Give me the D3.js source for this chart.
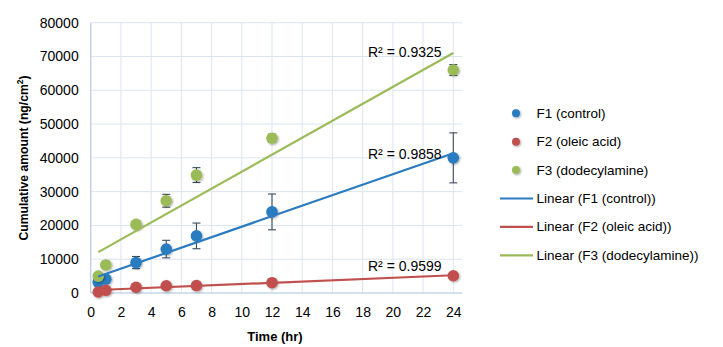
<!DOCTYPE html>
<html><head><meta charset="utf-8">
<script src="https://cdn.jsdelivr.net/npm/d3@7"></script>
<style>body{margin:0;background:#fff}svg{display:block}text{font-family:"Liberation Sans",Arial,sans-serif}</style>
</head><body><svg id="c" width="723" height="347"></svg>
<script>
const times = [0.5, 1, 3, 5, 7, 12, 24];
const f1Values = [3200, 4100, 9000, 13000, 16900, 24000, 40000];
const f1Errors = [600, 600, 1800, 2600, 3800, 5300, 7400];
const f2Values = [300, 800, 1700, 2150, 2200, 3050, 5100];
const f2Errors = [200, 200, 300, 300, 300, 400, 600];
const f3Values = [5000, 8300, 20300, 27300, 34900, 45800, 66000];
const f3Errors = [500, 600, 700, 1900, 2200, 1200, 1600];
const seriesNames = ["F1 (control)", "F2 (oleic acid)", "F3 (dodecylamine)"];
const r2Labels = ["R² = 0.9858", "R² = 0.9599", "R² = 0.9325"];
const xTicks = [0,2,4,6,8,10,12,14,16,18,20,22,24];
const yTicks = [0,10000,20000,30000,40000,50000,60000,70000,80000];
const colors = ["#2b7bc0", "#c0504d", "#9bbb59"];

const series = [
  {name: seriesNames[0], values: f1Values, errors: f1Errors, color: colors[0], r2: r2Labels[0]},
  {name: seriesNames[1], values: f2Values, errors: f2Errors, color: colors[1], r2: r2Labels[1]},
  {name: seriesNames[2], values: f3Values, errors: f3Errors, color: colors[2], r2: r2Labels[2]}
];

const svg = d3.select("#c");
const x = d3.scaleLinear().domain([0, 24]).range([90.7, 453.3]);
const y = d3.scaleLinear().domain([0, 80000]).range([293, 22.7]);
const plotRight = 462;

const defs = svg.append("defs");
const f = defs.append("filter").attr("id","sh").attr("x","-50%").attr("y","-50%").attr("width","200%").attr("height","200%");
f.append("feGaussianBlur").attr("in","SourceAlpha").attr("stdDeviation",1.2).attr("result","b");
f.append("feOffset").attr("in","b").attr("dx",0.8).attr("dy",0.8).attr("result","o");
f.append("feComponentTransfer").attr("in","o").attr("result","o2").append("feFuncA").attr("type","linear").attr("slope",0.35);
const fm = f.append("feMerge"); fm.append("feMergeNode").attr("in","o2"); fm.append("feMergeNode").attr("in","SourceGraphic");

// grid
const g = svg.append("g");
g.selectAll(".hg").data(yTicks).join("line")
  .attr("x1", x(0)).attr("x2", plotRight).attr("y1", d=>y(d)).attr("y2", d=>y(d))
  .attr("stroke", "#dbe5f1").attr("stroke-width", 1);
g.selectAll(".vg").data(xTicks).join("line")
  .attr("x1", d=>x(d)).attr("x2", d=>x(d)).attr("y1", y(80000)).attr("y2", y(0))
  .attr("stroke", "#dbe5f1").attr("stroke-width", 1);
g.append("line").attr("x1", x(0)).attr("x2", x(0)).attr("y1", y(80000)).attr("y2", y(0)).attr("stroke","#b7cde6").attr("stroke-width",1.2);
g.append("line").attr("x1", x(0)).attr("x2", plotRight).attr("y1", y(0)).attr("y2", y(0)).attr("stroke","#b7cde6").attr("stroke-width",1.2);

// tick labels
const yAxis = d3.axisLeft(y).tickValues(yTicks).tickSize(0).tickPadding(12).tickFormat(d3.format("d"));
const ya = svg.append("g").attr("transform", `translate(${x(0)},0)`).call(yAxis);
ya.select(".domain").remove();
ya.selectAll("text").attr("font-size", 14).attr("fill", "#000").style("font-family","Liberation Sans, Arial, sans-serif");
const xAxis = d3.axisBottom(x).tickValues(xTicks).tickSize(0).tickPadding(14);
const xa = svg.append("g").attr("transform", `translate(0,${y(0)})`).call(xAxis);
xa.select(".domain").remove();
xa.selectAll("text").attr("font-size", 14).attr("fill", "#000").style("font-family","Liberation Sans, Arial, sans-serif");

// axis titles
svg.append("text").attr("x", 275).attr("y", 341).attr("text-anchor","middle").attr("font-size",13).attr("font-weight","bold").text("Time (hr)");
const yt = svg.append("text").attr("transform","translate(28,158) rotate(-90)").attr("text-anchor","middle").attr("font-size",12.2).attr("font-weight","bold");
yt.append("tspan").text("Cumulative amount (ng/cm");
yt.append("tspan").attr("font-size",8.5).attr("dy",-5).text("2");
yt.append("tspan").attr("dy",5).text(")");

// error bars and markers
series.forEach(s => {
  const pts = times.map((t,i)=>({t, v:s.values[i], e:s.errors[i]}));
  const eb = svg.append("g").attr("stroke","#3a4a5c").attr("stroke-width",1.1);
  pts.forEach(p => {
    eb.append("line").attr("x1",x(p.t)).attr("x2",x(p.t)).attr("y1",y(p.v+p.e)).attr("y2",y(p.v-p.e));
    eb.append("line").attr("x1",x(p.t)-4).attr("x2",x(p.t)+4).attr("y1",y(p.v+p.e)).attr("y2",y(p.v+p.e));
    eb.append("line").attr("x1",x(p.t)-4).attr("x2",x(p.t)+4).attr("y1",y(p.v-p.e)).attr("y2",y(p.v-p.e));
  });
  svg.append("g").attr("filter","url(#sh)").selectAll("circle").data(pts).join("circle")
    .attr("cx", d=>x(d.t)).attr("cy", d=>y(d.v)).attr("r", 5.8).attr("fill", s.color);
});

// trendlines
function fit(xs, ys){
  const mx=d3.mean(xs), my=d3.mean(ys);
  let sxy=0,sxx=0; xs.forEach((xv,i)=>{sxy+=(xv-mx)*(ys[i]-my);sxx+=(xv-mx)**2;});
  const m=sxy/sxx; return {m, b:my-m*mx};
}
const r2Pos = [[368,159],[368,271],[368,57]];
series.forEach((s,k) => {
  const {m,b} = fit(times, s.values);
  const x0=d3.min(times), x1=d3.max(times);
  svg.append("line").attr("x1",x(x0)).attr("x2",x(x1)).attr("y1",y(m*x0+b)).attr("y2",y(m*x1+b))
    .attr("stroke", s.color).attr("stroke-width",2.2);
  svg.append("text").attr("x",r2Pos[k][0]).attr("y",r2Pos[k][1]).attr("font-size",14).attr("fill","#000").text(s.r2);
});

// legend
const leg = svg.append("g");
series.forEach((s,i)=>{
  const yy = 113.3 + i*28.4;
  leg.append("circle").attr("cx",516).attr("cy",yy).attr("r",4).attr("fill",s.color).attr("filter","url(#sh)");
  leg.append("text").attr("x",536.5).attr("y",yy+4.5).attr("font-size",13.5).text(s.name);
});
series.forEach((s,i)=>{
  const yy = 113.3 + (i+3)*28.4;
  leg.append("line").attr("x1",500).attr("x2",533).attr("y1",yy).attr("y2",yy).attr("stroke",s.color).attr("stroke-width",2.2);
  leg.append("text").attr("x",536.5).attr("y",yy+4.5).attr("font-size",13.5).text("Linear (" + s.name + ")");
});
</script></body></html>
